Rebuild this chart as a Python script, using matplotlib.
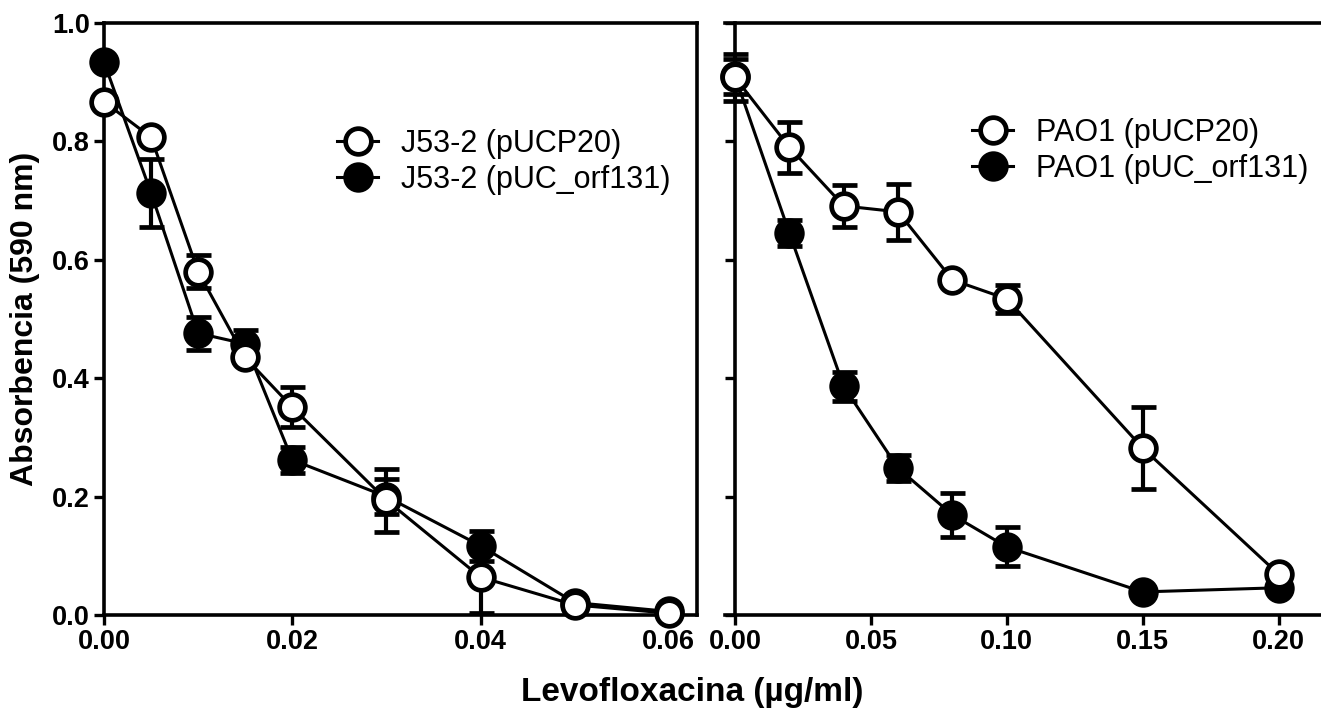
import matplotlib
matplotlib.use("Agg")
import matplotlib.pyplot as plt
from matplotlib.lines import Line2D

plt.rcParams['font.family'] = ['Liberation Sans', 'DejaVu Sans']

# Left panel: J53-2
x_left = [0.0, 0.005, 0.01, 0.015, 0.02, 0.03, 0.04, 0.05, 0.06]
j53_ucp = [0.867, 0.807, 0.580, 0.435, 0.351, 0.194, 0.064, 0.017, 0.003]
j53_ucp_err = [0.0, 0.0, 0.028, 0.0, 0.034, 0.053, 0.060, 0.0, 0.0]
j53_orf = [0.934, 0.713, 0.476, 0.458, 0.262, 0.200, 0.117, 0.021, 0.006]
j53_orf_err = [0.0, 0.058, 0.028, 0.024, 0.022, 0.030, 0.025, 0.0, 0.0]

# Right panel: PAO1
x_right = [0.0, 0.02, 0.04, 0.06, 0.08, 0.10, 0.15, 0.20]
pao_ucp = [0.908, 0.790, 0.691, 0.681, 0.566, 0.534, 0.282, 0.069]
pao_ucp_err = [0.040, 0.043, 0.036, 0.047, 0.0, 0.024, 0.070, 0.0]
pao_orf = [0.910, 0.645, 0.386, 0.248, 0.169, 0.115, 0.039, 0.046]
pao_orf_err = [0.030, 0.022, 0.025, 0.022, 0.037, 0.033, 0.0, 0.0]

labels_left = ['J53-2 (pUCP20)', 'J53-2 (pUC_orf131)']
labels_right = ['PAO1 (pUCP20)', 'PAO1 (pUC_orf131)']
yticks = [0.0, 0.2, 0.4, 0.6, 0.8, 1.0]
xticks_left = [0.00, 0.02, 0.04, 0.06]
xticks_right = [0.00, 0.05, 0.10, 0.15, 0.20]

W, H = 1321, 715
fig = plt.figure(figsize=(W / 100, H / 100), dpi=100)

def fx(px):
    return px / W

def fy(py):
    return 1 - py / H

ax1 = fig.add_axes([fx(104), fy(615), fx(697 - 104), (615 - 23) / H])
ax2 = fig.add_axes([fx(725), fy(615), fx(1321 - 725) + 0.002, (615 - 23) / H])

MS = 18.5
MEW = 3.4
LW = 2.2
ELW = 3.0
CAP = 9
CT = 3.4

def draw(ax, x, yo, eo, yf, ef):
    ax.errorbar(x, yo, yerr=eo, fmt='none', ecolor='black', elinewidth=ELW,
                capsize=CAP, capthick=CT, zorder=2, clip_on=False)
    ax.errorbar(x, yf, yerr=ef, fmt='none', ecolor='black', elinewidth=ELW,
                capsize=CAP, capthick=CT, zorder=2, clip_on=False)
    ax.plot(x, yf, '-o', color='black', lw=LW, ms=MS, mfc='black', mec='black',
            mew=MEW, zorder=3, clip_on=False)
    ax.plot(x, yo, '-o', color='black', lw=LW, ms=MS, mfc='white', mec='black',
            mew=MEW, zorder=4, clip_on=False)

draw(ax1, x_left, j53_ucp, j53_ucp_err, j53_orf, j53_orf_err)
draw(ax2, x_right, pao_ucp, pao_ucp_err, pao_orf, pao_orf_err)

for ax in (ax1, ax2):
    ax.set_ylim(0, 1.0)
    ax.set_yticks(yticks)
    for s in ax.spines.values():
        s.set_linewidth(2.6)
    ax.tick_params(direction='out', length=7, width=2.4, labelsize=19.5, pad=3)

ax1.set_xlim(0, 0.063)
ax1.set_xticks(xticks_left)
ax1.set_xticklabels(['%.2f' % v for v in xticks_left], fontweight='bold')
ax1.set_yticklabels(['%.1f' % v for v in yticks], fontweight='bold')
ax1.set_ylabel('Absorbencia (590 nm)', fontsize=23, fontweight='bold', labelpad=9)

ax2.set_xlim(-0.0037, 0.2166)
ax2.set_xticks(xticks_right)
ax2.set_xticklabels(['%.2f' % v for v in xticks_right], fontweight='bold')
ax2.set_yticklabels([])
ax2.spines['left'].set_position(('data', 0))
ax2.spines['right'].set_visible(False)

fig.text(fx(692), fy(693), 'Levofloxacina (µg/ml)', ha='center', va='center',
         fontsize=24, fontweight='bold')

def legend(ax, labels, anchor):
    handles = [
        Line2D([], [], color='black', lw=LW, marker='o', ms=MS, mfc='white', mec='black', mew=MEW),
        Line2D([], [], color='black', lw=LW, marker='o', ms=MS, mfc='black', mec='black', mew=MEW),
    ]
    leg = ax.legend(handles, labels, loc='upper left', bbox_to_anchor=anchor,
                    bbox_transform=fig.transFigure, frameon=False, fontsize=22,
                    handlelength=1.35, handletextpad=0.75, labelspacing=0.2,
                    borderaxespad=0, borderpad=0)
    return leg

legend(ax1, labels_left, (fx(337), fy(129)))
legend(ax2, labels_right, (fx(972), fy(118)))

fig.savefig('out.png', dpi=100)
